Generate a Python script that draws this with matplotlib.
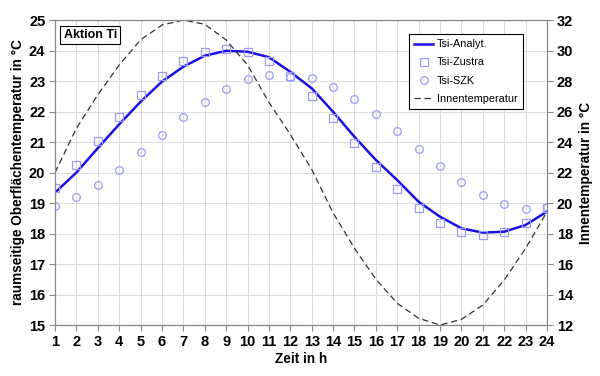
import numpy as np
import matplotlib.pyplot as plt

plt.rcParams['font.family'] = ['Liberation Sans', 'DejaVu Sans']

hours = list(range(1, 25))

tsi_analyt = [19.34, 20.0, 20.8, 21.58, 22.32, 22.98, 23.47, 23.83, 23.99, 23.96,
              23.78, 23.3, 22.76, 21.99, 21.17, 20.41, 19.75, 19.04, 18.55, 18.17,
              18.03, 18.06, 18.28, 18.72]
tsi_zustra = [19.48, 20.25, 21.03, 21.81, 22.55, 23.17, 23.66, 23.96, 24.05, 23.96,
              23.66, 23.17, 22.52, 21.78, 20.98, 20.19, 19.45, 18.83, 18.36, 18.04,
              17.94, 18.05, 18.36, 18.83]
tsi_szk = [18.91, 19.2, 19.59, 20.09, 20.66, 21.24, 21.81, 22.32, 22.73, 23.05,
           23.21, 23.14, 23.09, 22.8, 22.41, 21.92, 21.36, 20.77, 20.21, 19.69,
           19.27, 18.96, 18.79, 18.88]
innentemp = [22.0, 24.9, 27.1, 29.05, 30.7, 31.67, 32.0, 31.72, 30.69, 29.05,
             26.6, 24.5, 22.2, 19.35, 17.03, 15.0, 13.42, 12.44, 12.0, 12.37,
             13.31, 14.95, 17.03, 19.43]

fig = plt.figure(figsize=(6, 3.76), dpi=100)
ax = fig.add_axes([0.0917, 0.1356, 0.82, 0.8112])
ax2 = ax.twinx()

l1, = ax.plot(hours, tsi_analyt, color="#1a0fe6", lw=1.8, label="Tsi-Analyt.", zorder=3)
l2, = ax.plot(hours, tsi_zustra, ls="none", marker="s", ms=6, mfc="none",
              mec="#9c9cf5", mew=0.9, label="Tsi-Zustra", zorder=4)
l3, = ax.plot(hours, tsi_szk, ls="none", marker="o", ms=5.5, mfc="none",
              mec="#9c9cf5", mew=0.9, label="Tsi-SZK", zorder=4)
l4, = ax2.plot(hours, innentemp, color="#333333", lw=0.9, ls=(0, (5, 3)),
               label="Innentemperatur")

ax.set_xlim(1, 24)
ax.set_ylim(15, 25)
ax2.set_ylim(12, 32)
ax.set_xticks(hours)
ax.set_yticks(range(15, 26))
ax2.set_yticks(range(12, 33, 2))

ax.grid(True, color="#dddddd", lw=0.8)
ax.set_axisbelow(True)
for a in (ax, ax2):
    for s in a.spines.values():
        s.set_color("#888888")
    a.tick_params(colors="#888888", labelcolor="black", length=4, width=0.8,
                  labelsize=10.5, pad=3)
for lab in ax.get_xticklabels() + ax.get_yticklabels() + ax2.get_yticklabels():
    lab.set_fontweight("bold")

ax.set_xlabel("Zeit in h", fontsize=9.8, fontweight="bold", labelpad=2)
ax.set_ylabel("raumseitige Oberflächentemperatur in °C", fontsize=9.8,
              fontweight="bold", labelpad=3)
ax2.set_ylabel("Innentemperatur in °C", fontsize=9.8, fontweight="bold", labelpad=4)

ax.text(1.4, 24.5, "Aktion Ti", fontsize=9, fontweight="bold", va="center",
        bbox=dict(boxstyle="square,pad=0.25", fc="white", ec="black", lw=0.8),
        zorder=6)

leg = ax2.legend([l1, l2, l3, l4], [l.get_label() for l in (l1, l2, l3, l4)],
                 loc="upper right", bbox_to_anchor=(0.958, 0.965), fontsize=7.8,
                 fancybox=False, edgecolor="black", framealpha=1,
                 handlelength=1.7, handletextpad=0.4, borderpad=0.5,
                 labelspacing=0.75, borderaxespad=0.3)
leg.get_frame().set_linewidth(0.8)

plt.savefig("out.png", dpi=100)
